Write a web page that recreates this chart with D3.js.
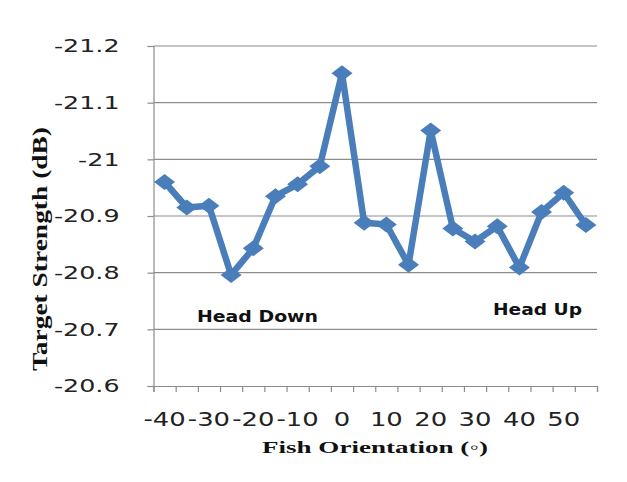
<!DOCTYPE html>
<html>
<head>
<meta charset="utf-8">
<script src="https://cdn.jsdelivr.net/npm/d3@7"></script>
<style>
  body { margin: 0; background: #fff; }
  svg { display: block; }
</style>
</head>
<body>
<div id="chart"></div>
<script>
// Fish orientation categories (degrees), one point per category
const orientations = [-40, -35, -30, -25, -20, -15, -10, -5, 0, 5, 10, 15, 20, 25, 30, 35, 40, 45, 50, 55];
// Target strength (dB)
const targetStrength = [-20.96, -20.915, -20.918, -20.796, -20.843, -20.935, -20.956, -20.988, -21.152, -20.888,
                        -20.885, -20.814, -21.051, -20.878, -20.855, -20.882, -20.809, -20.907, -20.941, -20.884];
// Tick labels
const xTickLabels = [-40, -30, -20, -10, 0, 10, 20, 30, 40, 50];
const yTicks = [-21.2, -21.1, -21, -20.9, -20.8, -20.7, -20.6];
const yTickLabels = ["-21.2", "-21.1", "-21", "-20.9", "-20.8", "-20.7", "-20.6"];

const width = 627, height = 482;
const plot = {left: 153.5, right: 597, top: 46, bottom: 386};
const lineColor = "#4a7ebb";
const gridColor = "#8c8c8c";

let svg = d3.select("#chart").append("svg")
    .attr("width", width)
    .attr("height", height);

// Category axis: each point sits in the middle of its band
let x = d3.scaleBand()
    .domain(orientations)
    .range([plot.left, plot.right])
    .padding(0);

// Edges between categories carry the tick marks
let xEdge = d3.scaleLinear()
    .domain([0, orientations.length])
    .range([plot.left, plot.right]);

// y axis is reversed: -21.2 at the top
let y = d3.scaleLinear()
    .domain([-21.2, -20.6])
    .range([plot.top, plot.bottom]);

// Horizontal gridlines
svg.append("g")
    .selectAll("line")
    .data(yTicks.slice(0, -1))
    .join("line")
    .attr("x1", plot.left)
    .attr("x2", plot.right)
    .attr("y1", d => y(d))
    .attr("y2", d => y(d))
    .attr("stroke", gridColor)
    .attr("stroke-width", 1.2);

// y axis
let yAxis = d3.axisLeft(y)
    .tickValues(yTicks)
    .tickSize(6)
    .tickPadding(28)
    .tickFormat((d, i) => yTickLabels[i]);
let yG = svg.append("g")
    .attr("transform", `translate(${plot.left},0)`)
    .call(yAxis);
yG.select(".domain").attr("stroke", gridColor).attr("stroke-width", 1.2);
yG.selectAll(".tick line").attr("stroke", gridColor).attr("stroke-width", 1.2);
yG.selectAll(".tick text")
    .attr("font-family", "DejaVu Sans, sans-serif")
    .attr("font-size", 18.5)
    .attr("fill", "#222")
    .attr("x", -34)
    .each(function() {
        // the picture is stretched sideways, so widen the labels
        let w = this.getComputedTextLength();
        d3.select(this).attr("textLength", w * 1.37).attr("lengthAdjust", "spacingAndGlyphs");
    });

// x axis: tick marks at category edges
let xEdgeAxis = d3.axisBottom(xEdge)
    .tickValues(d3.range(orientations.length + 1))
    .tickSize(6)
    .tickFormat("");
let xG = svg.append("g")
    .attr("transform", `translate(0,${plot.bottom})`)
    .call(xEdgeAxis);
xG.select(".domain").attr("stroke", gridColor).attr("stroke-width", 1.2);
xG.selectAll(".tick line").attr("stroke", gridColor).attr("stroke-width", 1.2);

// x labels on every other category
let xLabelAxis = d3.axisBottom(x)
    .tickValues(xTickLabels)
    .tickSize(0)
    .tickPadding(27);
let xl = svg.append("g")
    .attr("transform", `translate(0,${plot.bottom})`)
    .call(xLabelAxis);
xl.select(".domain").remove();
xl.selectAll(".tick text")
    .attr("font-family", "DejaVu Sans, sans-serif")
    .attr("font-size", 19)
    .attr("fill", "#222")
    .each(function() {
        let w = this.getComputedTextLength();
        d3.select(this).attr("textLength", w * 1.36).attr("lengthAdjust", "spacingAndGlyphs");
    });

// The data line
let line = d3.line()
    .x((d, i) => x(orientations[i]) + x.bandwidth() / 2)
    .y(d => y(d));

svg.append("path")
    .datum(targetStrength)
    .attr("fill", "none")
    .attr("stroke", lineColor)
    .attr("stroke-width", 6.5)
    .attr("stroke-linejoin", "round")
    .attr("d", line);

// Diamond markers
let diamond = "M0,-8L10.5,0L0,8L-10.5,0Z";
svg.append("g")
    .selectAll("path")
    .data(targetStrength)
    .join("path")
    .attr("d", diamond)
    .attr("fill", lineColor)
    .attr("transform", (d, i) => `translate(${x(orientations[i]) + x.bandwidth() / 2},${y(d)})`);

// Annotations
svg.append("text")
    .attr("x", 197)
    .attr("y", 322)
    .attr("font-family", "DejaVu Sans, sans-serif")
    .attr("font-weight", "bold")
    .attr("font-size", 16)
    .attr("fill", "#111")
    .attr("textLength", 121)
    .attr("lengthAdjust", "spacingAndGlyphs")
    .text("Head Down");

svg.append("text")
    .attr("x", 493)
    .attr("y", 315)
    .attr("font-family", "DejaVu Sans, sans-serif")
    .attr("font-weight", "bold")
    .attr("font-size", 16)
    .attr("fill", "#111")
    .attr("textLength", 89)
    .attr("lengthAdjust", "spacingAndGlyphs")
    .text("Head Up");

// Axis titles
svg.append("text")
    .attr("x", 262)
    .attr("y", 453)
    .attr("font-family", "Liberation Serif, serif")
    .attr("font-weight", "bold")
    .attr("font-size", 17)
    .attr("fill", "#111")
    .attr("textLength", 226)
    .attr("lengthAdjust", "spacingAndGlyphs")
    .text("Fish  Orientation (\u25E6)");

svg.append("text")
    .attr("transform", "translate(47,249) rotate(-90)")
    .attr("text-anchor", "middle")
    .attr("font-family", "Liberation Serif, serif")
    .attr("font-weight", "bold")
    .attr("font-size", 20)
    .attr("fill", "#111")
    .attr("textLength", 244)
    .attr("lengthAdjust", "spacingAndGlyphs")
    .text("Target Strength (dB)");
</script>
</body>
</html>
